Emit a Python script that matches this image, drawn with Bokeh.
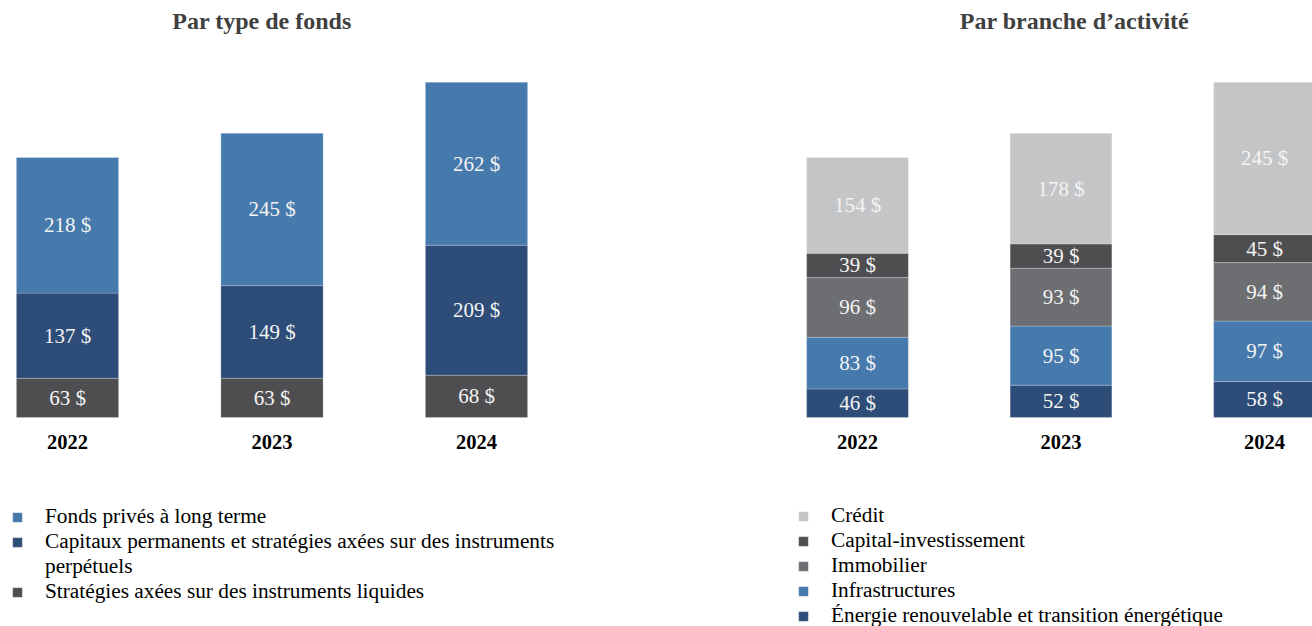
from bokeh.plotting import figure
from bokeh.models import ColumnDataSource, Range1d, Legend, LegendItem, Label
from bokeh.layouts import row
from bokeh.embed import file_html
from bokeh.resources import INLINE
from bokeh.core.properties import value

years = ["2022", "2023", "2024"]

# Par type de fonds (bottom -> top)
liquides = [63, 63, 68]
permanents = [137, 149, 209]
prives = [218, 245, 262]

# Par branche d'activité (bottom -> top)
energie = [46, 52, 58]
infra = [83, 95, 97]
immo = [96, 93, 94]
capinv = [39, 39, 45]
credit = [154, 178, 245]

C_LBLUE = "#4679AC"
C_NAVY = "#2D4C77"
C_DGRAY = "#4E4E50"
C_MGRAY = "#6D6E71"
C_LGRAY = "#C4C5C7"

FONT = "Liberation Serif"
PX_PER_UNIT = 260 / 418.0
H = 626
ZERO_Y = 417
y_start = -(H - ZERO_Y) / PX_PER_UNIT
y_end = ZERO_Y / PX_PER_UNIT


def make_panel(width, x_start, x_end, title, title_x, series, names, colors,
               legend_order, legend_x, legend_y, wrap=None):
    idx = list(range(len(years)))
    data = {"x": idx, "year": years}
    keys = []
    for i, s in enumerate(series):
        k = "s%d" % i
        data[k] = s
        keys.append(k)
    src = ColumnDataSource(data)

    p = figure(width=width, height=H, output_backend="svg", toolbar_location=None,
               x_range=Range1d(x_start, x_end), y_range=Range1d(y_start, y_end),
               min_border=0, min_border_left=0, min_border_right=0,
               min_border_top=0, min_border_bottom=0)
    p.axis.visible = False
    p.grid.visible = False
    p.outline_line_color = None
    p.background_fill_color = "white"
    p.border_fill_color = "white"

    rends = p.vbar_stack(keys, x="x", width=0.5, source=src, fill_color=colors,
                         line_color="#FFFFFF", line_alpha=0.3, line_width=0.8)

    # segment labels
    lx, ly, lt = [], [], []
    for j in idx:
        base = 0
        for s in series:
            v = s[j]
            lx.append(j)
            ly.append(base + v / 2.0)
            lt.append("%d $" % v)
            base += v
    p.text(x=lx, y=ly, text=lt, text_align="center", text_baseline="middle",
           text_font=value(FONT), text_font_size="21px", text_color="#F4F4F4")

    # year labels
    p.text(x=idx, y=[0] * len(idx), text=years, y_offset=24,
           text_align="center", text_baseline="middle",
           text_font=value(FONT), text_font_size="20.5px",
           text_font_style="bold", text_color="#000000")

    p.add_layout(Label(x=title_x, y=H - 20, x_units="screen", y_units="screen",
                       text=title, text_align="center", text_baseline="alphabetic",
                       text_font=FONT, text_font_size="24px",
                       text_font_style="bold", text_color="#404040"))

    items = []
    for k in legend_order:
        items.append(LegendItem(label=names[k], renderers=[rends[k]]))
        if wrap is not None and k == wrap[0]:
            ghost = p.vbar(x=[], top=[], width=0.5, fill_alpha=0, line_alpha=0)
            items.append(LegendItem(label=wrap[1], renderers=[ghost]))
    leg = Legend(items=items, location=(legend_x, legend_y), padding=0, margin=0,
                 spacing=0, label_height=24, glyph_height=12, glyph_width=12,
                 label_standoff=22, border_line_color=None,
                 background_fill_alpha=0, label_text_font=FONT,
                 label_text_font_size="21.3px", label_text_color="#000000",
                 label_text_baseline="middle")
    p.add_layout(leg)
    return p


left_names = ["Stratégies axées sur des instruments liquides",
              "Capitaux permanents et stratégies axées sur des instruments",
              "Fonds privés à long terme"]
left = make_panel(648, (0 - 67) / 204.5, (648 - 67) / 204.5,
                  "Par type de fonds", 261.5,
                  [liquides, permanents, prives], left_names,
                  [C_DGRAY, C_NAVY, C_LBLUE], [2, 1, 0], 11, 22,
                  wrap=(1, "perpétuels"))

right_names = ["Énergie renouvelable et transition énergétique",
               "Infrastructures", "Immobilier", "Capital-investissement",
               "Crédit"]
right = make_panel(664, (648 - 857) / 203.5, (1312 - 857) / 203.5,
                   "Par branche d\u2019activité", 1074 - 648,
                   [energie, infra, immo, capinv, credit], right_names,
                   [C_NAVY, C_LBLUE, C_MGRAY, C_DGRAY, C_LGRAY],
                   [4, 3, 2, 1, 0], 149, -2)

layout = row(left, right, spacing=0)
open("out.html", "w").write(file_html(layout, INLINE))
